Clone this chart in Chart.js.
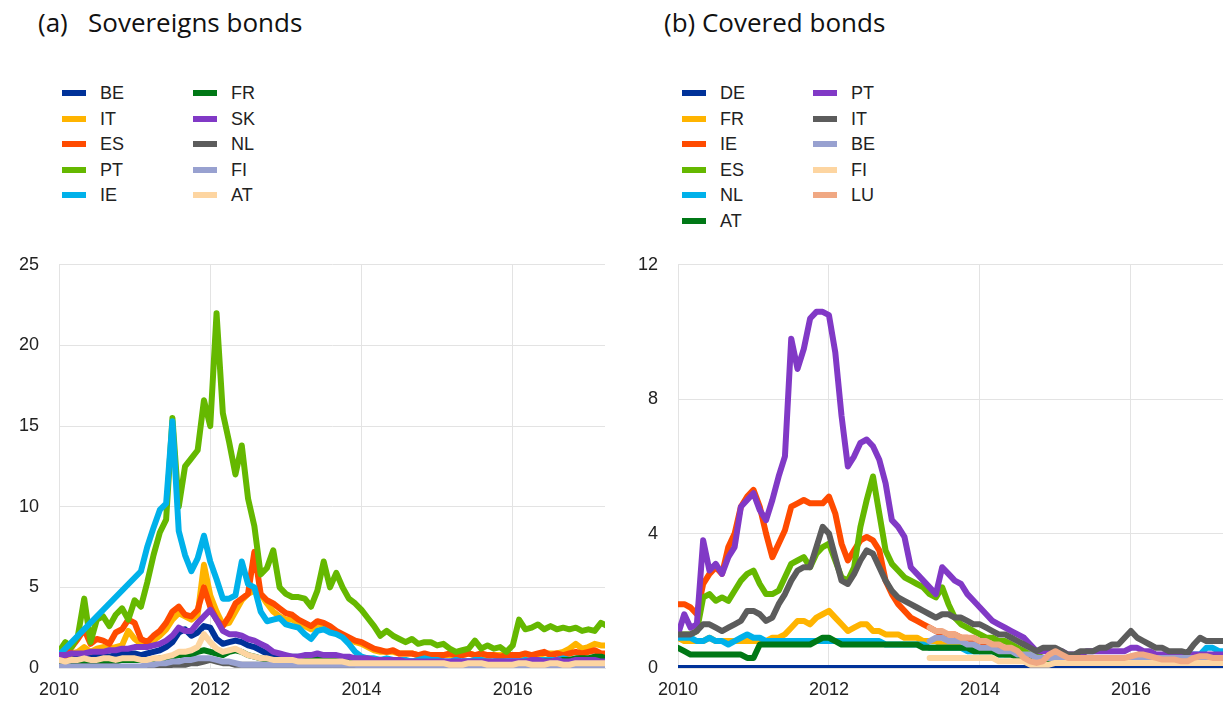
<!DOCTYPE html>
<html>
<head>
<meta charset="utf-8">
<script src="https://cdn.jsdelivr.net/npm/chart.js@4.4.1/dist/chart.umd.min.js"></script>
<style>
  body { margin: 0; width: 1223px; height: 704px; background: #fff; position: relative; overflow: hidden; font-family: 'Liberation Sans', Arial, sans-serif; }
  .title { position: absolute; top: 4px; font-family: 'Open Sans', sans-serif; font-size: 26px; color: #111; white-space: nowrap; }
  .legend .item { position: absolute; height: 24px; line-height: 24px; font-size: 18px; color: #222; white-space: nowrap; }
  .legend .sw { position: absolute; top: 9px; left: 0; width: 24px; height: 6px; }
  .legend .lbl { position: absolute; left: 38px; top: 0; }
  canvas { position: absolute; }
</style>
</head>
<body>
<div class="title" style="left:38px">(a)</div>
<div class="title" style="left:88px">Sovereigns bonds</div>
<div class="title" style="left:664px">(b) Covered bonds</div>
<div class="legend" id="legend-sov"></div>
<div class="legend" id="legend-cov"></div>
<canvas id="chart-sov" width="612" height="470" style="left:0;top:234px"></canvas>
<canvas id="chart-cov" width="603" height="470" style="left:620px;top:234px"></canvas>
<script>
// tick labels / axes
const xTicksYears = [2010, 2012, 2014, 2016];
const sovYTicks = [0, 5, 10, 15, 20, 25];
const covYTicks = [0, 4, 8, 12];

// monthly observations, Jan 2010 .. Apr 2017 (88 points)
const firstYear = 2010;
const nPoints = 88;

// ---- (a) Sovereign bonds ----
const sovNames = ['BE', 'IT', 'ES', 'PT', 'IE', 'FR', 'SK', 'NL', 'FI', 'AT'];
const sovColors = ['#003299', '#ffb400', '#ff4b00', '#65b800', '#00b1ea', '#007816', '#8139c6', '#5c5c5c', '#98a1d0', '#fdd5a1'];

const sovBE = [
  0.7, 0.6, 0.6, 0.7, 0.8, 0.7, 0.7, 0.8, 0.7, 0.8, 0.9, 0.9,
  0.9, 0.8, 0.9, 1.0, 1.1, 1.3, 1.6, 2.2, 2.4, 2.0, 2.2, 2.6,
  2.5, 1.8, 1.5, 1.6, 1.7, 1.6, 1.4, 1.3, 1.1, 0.9, 0.8, 0.8,
  0.7, 0.7, 0.7, 0.7, 0.7, 0.7, 0.6, 0.7, 0.6, 0.6, 0.6, 0.6,
  0.6, 0.5, 0.5, 0.5, 0.5, 0.4, 0.4, 0.4, 0.4, 0.4, 0.4, 0.4,
  0.4, 0.4, 0.3, 0.3, 0.4, 0.4, 0.4, 0.4, 0.3, 0.4, 0.4, 0.4,
  0.4, 0.4, 0.4, 0.4, 0.3, 0.4, 0.4, 0.4, 0.4, 0.4, 0.5, 0.5,
  0.5, 0.5, 0.5, 0.5
];
const sovIT = [
  0.8, 0.7, 0.9, 1.0, 1.3, 1.0, 1.2, 1.3, 1.2, 1.3, 1.4, 2.3,
  1.8, 1.5, 1.5, 1.7, 2.0, 2.4, 3.0, 3.4, 3.2, 3.0, 3.3, 6.4,
  4.5, 3.5, 2.7, 2.8, 3.5, 4.2, 4.6, 4.8, 4.6, 4.0, 3.5, 3.2,
  3.0, 3.0, 2.8, 2.6, 2.4, 2.7, 2.6, 2.4, 2.2, 2.0, 1.8, 1.6,
  1.5, 1.3, 1.1, 1.0, 1.0, 1.0, 0.9, 0.9, 0.9, 0.8, 0.8, 0.8,
  0.8, 0.8, 0.8, 0.8, 0.8, 0.9, 0.8, 0.8, 0.7, 0.8, 0.8, 0.8,
  0.8, 0.8, 0.8, 0.8, 0.8, 0.9, 0.9, 0.9, 1.0, 1.2, 1.5, 1.2,
  1.3, 1.5, 1.4, 1.4
];
const sovES = [
  0.9, 0.7, 1.3, 1.8, 2.4, 1.5, 1.8, 1.7, 1.5, 2.2, 2.4, 3.0,
  2.8, 1.8, 1.6, 2.0, 2.3, 2.8, 3.5, 3.8, 3.3, 3.2, 3.6, 5.0,
  3.8, 3.0, 2.6, 3.2, 4.0, 4.3, 4.6, 7.2, 4.6, 4.2, 4.0, 3.7,
  3.4, 3.3, 3.0, 2.8, 2.6, 2.9, 2.8, 2.6, 2.3, 2.1, 1.9, 1.7,
  1.6, 1.4, 1.2, 1.1, 1.0, 1.1, 0.9, 0.9, 0.9, 0.8, 0.9, 0.8,
  0.8, 0.8, 0.9, 0.8, 0.8, 0.9, 0.8, 0.9, 0.8, 0.8, 0.7, 0.8,
  0.8, 0.8, 0.9, 0.8, 0.9, 1.0, 0.8, 0.9, 0.8, 0.9, 1.0, 0.9,
  1.0, 1.1, 0.9, 0.9
];
const sovPT = [
  1.0, 1.6, 1.3, 2.0, 4.3, 1.6, 3.0, 3.2, 2.6, 3.3, 3.7, 3.0,
  4.2, 3.8, 5.3, 7.0, 8.4, 9.2, 15.5, 10.0, 12.5, 13.0, 13.5, 16.6,
  15.0, 22.0, 15.8, 14.0, 12.0, 13.8, 10.5, 8.8, 5.8, 6.2, 7.3, 5.0,
  4.6, 4.4, 4.4, 4.3, 3.8, 4.8, 6.6, 5.0, 5.9, 5.0, 4.3, 4.0,
  3.6, 3.1, 2.6, 2.0, 2.3, 2.0, 1.8, 1.6, 1.8, 1.5, 1.6, 1.6,
  1.4, 1.5, 1.2, 1.0, 1.1, 1.2, 1.7, 1.2, 1.4, 1.2, 1.3, 1.0,
  1.4, 3.0, 2.4, 2.5, 2.7, 2.4, 2.6, 2.4, 2.5, 2.4, 2.5, 2.3,
  2.4, 2.3, 2.8, 2.6
];
// IE: no observations between Jan 2010 and Feb 2011 (drawn as a straight segment)
const sovIE = [
  0.8, null, null, null, null, null, null, null, null, null, null, null,
  null, 6.0, 7.5, 8.7, 9.8, 10.2, 15.3, 8.5, 7.0, 6.0, 6.8, 8.2,
  6.6, 5.5, 4.3, 4.3, 4.5, 6.6, 5.2, 5.0, 3.5, 2.9, 3.0, 3.1,
  2.7, 2.6, 2.5, 2.1, 1.8, 2.3, 2.4, 2.2, 2.1, 1.9, 1.5, 1.0,
  0.7, 0.6, 0.6, 0.5, 0.6, 0.5, 0.5, 0.5, 0.4, 0.5, 0.6, 0.5,
  0.5, 0.4, 0.4, 0.5, 0.4, 0.4, 0.5, 0.5, 0.4, 0.4, 0.4, 0.4,
  0.4, 0.4, 0.5, 0.4, 0.5, 0.5, 0.5, 0.5, 0.6, 0.5, 0.5, 0.5,
  0.5, 0.6, 0.6, 0.6
];
const sovFR = [
  0.3, 0.3, 0.3, 0.3, 0.4, 0.4, 0.4, 0.4, 0.4, 0.4, 0.5, 0.5,
  0.5, 0.5, 0.5, 0.5, 0.6, 0.6, 0.7, 0.8, 0.8, 0.8, 1.0, 1.1,
  1.0, 0.9, 0.8, 1.0, 1.1, 1.0, 0.8, 0.7, 0.6, 0.5, 0.5, 0.5,
  0.5, 0.5, 0.5, 0.5, 0.5, 0.5, 0.5, 0.5, 0.5, 0.4, 0.4, 0.4,
  0.4, 0.4, 0.3, 0.3, 0.3, 0.3, 0.3, 0.3, 0.3, 0.3, 0.3, 0.3,
  0.3, 0.3, 0.3, 0.3, 0.3, 0.3, 0.3, 0.3, 0.3, 0.3, 0.3, 0.3,
  0.3, 0.3, 0.3, 0.3, 0.3, 0.4, 0.4, 0.4, 0.5, 0.5, 0.6, 0.6,
  0.6, 0.7, 0.7, 0.6
];
const sovSK = [
  0.8, 0.8, 0.9, 0.9, 0.9, 1.0, 1.0, 1.0, 1.1, 1.1, 1.2, 1.2,
  1.3, 1.3, 1.3, 1.4, 1.5, 1.7, 2.0, 2.5, 2.3, 2.3, 2.8, 3.2,
  3.6, 3.0, 2.3, 2.1, 2.1, 2.0, 1.8, 1.7, 1.5, 1.3, 1.0, 0.9,
  0.8, 0.7, 0.7, 0.8, 0.8, 0.9, 0.8, 0.8, 0.8, 0.7, 0.7, 0.6,
  0.6, 0.6, 0.5, 0.5, 0.5, 0.5, 0.5, 0.4, 0.4, 0.4, 0.4, 0.4,
  0.4, 0.4, 0.4, 0.4, 0.4, 0.4, 0.4, 0.4, 0.4, 0.4, 0.4, 0.4,
  0.4, 0.4, 0.4, 0.5, 0.5, 0.4, 0.4, 0.5, 0.4, 0.4, 0.5, 0.5,
  0.5, 0.5, 0.4, 0.4
];
const sovNL = [
  0.1, 0.1, 0.1, 0.1, 0.1, 0.1, 0.1, 0.1, 0.1, 0.1, 0.0, 0.0,
  0.0, 0.0, 0.1, 0.1, 0.1, 0.1, 0.2, 0.2, 0.2, 0.3, 0.3, 0.4,
  0.5, 0.4, 0.3, 0.3, 0.2, 0.2, 0.2, 0.2, 0.2, 0.2, 0.2, 0.2,
  0.2, 0.2, 0.2, 0.2, 0.2, 0.2, 0.2, 0.2, 0.2, 0.2, 0.2, 0.2,
  0.2, 0.2, 0.2, 0.2, 0.2, 0.1, 0.1, 0.1, 0.1, 0.1, 0.1, 0.1,
  0.1, 0.1, 0.1, 0.1, 0.1, 0.1, 0.1, 0.1, 0.1, 0.1, 0.1, 0.1,
  0.1, 0.1, 0.1, 0.1, 0.1, 0.1, 0.1, 0.1, 0.1, 0.1, 0.1, 0.1,
  0.1, 0.1, 0.1, 0.1
];
const sovFI = [
  0.1, 0.1, 0.1, 0.1, 0.1, 0.1, 0.1, 0.1, 0.1, 0.1, 0.1, 0.1,
  0.1, 0.1, 0.2, 0.2, 0.3, 0.3, 0.4, 0.4, 0.5, 0.5, 0.6, 0.6,
  0.6, 0.5, 0.4, 0.4, 0.3, 0.2, 0.2, 0.2, 0.2, 0.2, 0.2, 0.2,
  0.2, 0.2, 0.2, 0.2, 0.2, 0.2, 0.2, 0.2, 0.2, 0.2, 0.2, 0.2,
  0.1, 0.1, 0.1, 0.1, 0.1, 0.1, 0.1, 0.1, 0.1, 0.1, 0.1, 0.1,
  0.1, 0.1, 0.1, 0.1, 0.1, 0.1, 0.1, 0.1, 0.1, 0.1, 0.1, 0.1,
  0.1, 0.1, 0.1, 0.1, 0.1, 0.1, 0.1, 0.1, 0.1, 0.1, 0.1, 0.1,
  0.1, 0.1, 0.1, 0.1
];
const sovAT = [
  0.5, 0.4, 0.5, 0.5, 0.6, 0.5, 0.5, 0.6, 0.6, 0.5, 0.6, 0.6,
  0.6, 0.5, 0.5, 0.6, 0.6, 0.7, 0.8, 1.0, 1.0, 1.1, 1.3, 2.1,
  1.6, 1.2, 1.0, 1.1, 1.2, 1.0, 0.8, 0.7, 0.6, 0.6, 0.5, 0.5,
  0.5, 0.5, 0.4, 0.4, 0.4, 0.4, 0.4, 0.4, 0.4, 0.4, 0.3, 0.3,
  0.3, 0.3, 0.3, 0.3, 0.3, 0.3, 0.3, 0.3, 0.3, 0.3, 0.3, 0.3,
  0.3, 0.3, 0.2, 0.2, 0.2, 0.3, 0.3, 0.3, 0.2, 0.2, 0.2, 0.2,
  0.2, 0.3, 0.3, 0.2, 0.2, 0.2, 0.3, 0.3, 0.2, 0.2, 0.3, 0.3,
  0.3, 0.3, 0.3, 0.3
];

// ---- (b) Covered bonds ----
const covNames = ['DE', 'FR', 'IE', 'ES', 'NL', 'AT', 'PT', 'IT', 'BE', 'FI', 'LU'];
const covColors = ['#003299', '#ffb400', '#ff4b00', '#65b800', '#00b1ea', '#007816', '#8139c6', '#5c5c5c', '#98a1d0', '#fdd5a1', '#f0a883'];

const covDE = [
  0, 0, 0, 0, 0, 0, 0, 0, 0, 0, 0, 0,
  0, 0, 0, 0, 0, 0, 0, 0, 0, 0, 0, 0,
  0, 0, 0, 0, 0, 0, 0, 0, 0, 0, 0, 0,
  0, 0, 0, 0, 0, 0, 0, 0, 0, 0, 0, 0,
  0, 0, 0, 0, 0, 0, 0, 0, 0, 0, 0, 0,
  0, 0, 0, 0, 0, 0, 0, 0, 0, 0, 0, 0,
  0, 0, 0, 0, 0, 0, 0, 0, 0, 0, 0, 0,
  0, 0, 0, 0
];
const covFR = [
  0.9, 0.8, 0.8, 0.8, 0.8, 0.9, 0.8, 0.8, 0.8, 0.8, 0.8, 0.8,
  0.8, 0.8, 0.8, 0.9, 0.9, 1.0, 1.2, 1.4, 1.4, 1.3, 1.5, 1.6,
  1.7, 1.5, 1.3, 1.1, 1.2, 1.3, 1.3, 1.1, 1.1, 1.0, 1.0, 1.0,
  0.9, 0.9, 0.9, 0.8, 0.8, 0.8, 0.7, 0.7, 0.7, 0.6, 0.6, 0.6,
  0.5, 0.5, 0.5, 0.5, 0.4, 0.4, 0.4, 0.3, 0.3, 0.3, 0.3, 0.3,
  0.3, 0.3, 0.3, 0.3, 0.3, 0.3, 0.3, 0.3, 0.3, 0.3, 0.3, 0.3,
  0.3, 0.3, 0.3, 0.3, 0.3, 0.3, 0.3, 0.3, 0.3, 0.3, 0.3, 0.3,
  0.3, 0.3, 0.3, 0.3
];
const covIE = [
  1.9, 1.9, 1.8, 1.6, 2.5, 2.8, 3.0, 2.8, 3.6, 4.0, 4.8, 5.1,
  5.3, 4.8, 4.0, 3.3, 3.7, 4.1, 4.8, 4.9, 5.0, 4.9, 4.9, 4.9,
  5.1, 4.6, 3.7, 3.2, 3.5, 3.8, 3.9, 3.8, 3.5, 2.6, 2.2, 1.9,
  1.7, 1.5, 1.4, 1.3, 1.2, 1.1, 1.0, 1.0, 1.0, 0.9, 0.9, 0.8,
  0.8, 0.7, 0.7, 0.6, 0.6, 0.5, 0.5, 0.4, 0.4, 0.3, 0.3, 0.3,
  0.3, 0.3, 0.3, 0.3, 0.3, 0.3, 0.3, 0.3, 0.3, 0.3, 0.3, 0.3,
  0.3, 0.3, 0.3, 0.3, 0.3, 0.3, 0.3, 0.3, 0.3, 0.3, 0.3, 0.3,
  0.3, 0.3, 0.3, 0.3
];
const covES = [
  1.0, 1.0, 1.0, 1.1, 2.1, 2.2, 2.0, 2.1, 2.0, 2.3, 2.6, 2.8,
  2.9, 2.5, 2.2, 2.2, 2.3, 2.7, 3.1, 3.2, 3.3, 3.0, 3.4, 3.6,
  3.7, 3.2, 2.7, 2.6, 3.0, 4.2, 5.0, 5.7, 4.6, 3.5, 3.1, 2.9,
  2.7, 2.6, 2.5, 2.4, 2.2, 2.1, 2.4, 1.9, 1.5, 1.3, 1.2, 1.1,
  1.0, 0.9, 0.9, 0.8, 0.8, 0.7, 0.6, 0.5, 0.4, 0.4, 0.3, 0.3,
  0.3, 0.3, 0.3, 0.3, 0.3, 0.3, 0.3, 0.3, 0.3, 0.3, 0.3, 0.3,
  0.3, 0.3, 0.3, 0.3, 0.3, 0.3, 0.3, 0.3, 0.3, 0.3, 0.3, 0.3,
  0.3, 0.3, 0.3, 0.3
];
const covNL = [
  0.9, 0.9, 0.9, 0.8, 0.8, 0.9, 0.8, 0.8, 0.7, 0.8, 0.9, 1.0,
  0.9, 0.9, 0.8, 0.8, 0.8, 0.8, 0.8, 0.8, 0.8, 0.8, 0.8, 0.8,
  0.8, 0.8, 0.8, 0.8, 0.8, 0.8, 0.8, 0.8, 0.8, 0.7, 0.7, 0.7,
  0.7, 0.7, 0.7, 0.7, 0.6, 0.6, 0.6, 0.6, 0.6, 0.6, 0.5, 0.5,
  0.5, 0.5, 0.5, 0.4, 0.4, 0.4, 0.4, 0.3, 0.3, 0.3, 0.3, 0.3,
  0.3, 0.3, 0.3, 0.3, 0.3, 0.3, 0.3, 0.3, 0.3, 0.3, 0.3, 0.3,
  0.3, 0.3, 0.3, 0.3, 0.3, 0.3, 0.3, 0.3, 0.3, 0.4, 0.4, 0.4,
  0.6, 0.6, 0.5, 0.5
];
const covAT = [
  0.6, 0.5, 0.4, 0.4, 0.4, 0.4, 0.4, 0.4, 0.4, 0.4, 0.4, 0.3,
  0.3, 0.7, 0.7, 0.7, 0.7, 0.7, 0.7, 0.7, 0.7, 0.7, 0.8, 0.9,
  0.9, 0.8, 0.7, 0.7, 0.7, 0.7, 0.7, 0.7, 0.7, 0.7, 0.7, 0.7,
  0.7, 0.7, 0.7, 0.6, 0.6, 0.6, 0.6, 0.6, 0.6, 0.6, 0.6, 0.5,
  0.5, 0.5, 0.5, 0.4, 0.4, 0.4, 0.3, 0.3, 0.3, 0.2, 0.2, 0.2,
  0.2, 0.2, 0.2, 0.2, 0.2, 0.2, 0.2, 0.2, 0.2, 0.2, 0.2, 0.2,
  0.2, 0.2, 0.2, 0.2, 0.2, 0.2, 0.2, 0.2, 0.2, 0.2, 0.2, 0.2,
  0.2, 0.2, 0.2, 0.2
];
const covPT = [
  1.0, 1.6, 1.2, 1.3, 3.8, 2.9, 3.1, 2.8, 3.3, 3.6, 4.8, 5.0,
  5.2, 4.7, 4.4, 5.0, 5.7, 6.3, 9.8, 8.9, 9.5, 10.4, 10.6, 10.6,
  10.5, 9.4, 7.5, 6.0, 6.3, 6.7, 6.8, 6.6, 6.2, 5.5, 4.4, 4.2,
  3.9, 3.0, 2.8, 2.6, 2.4, 2.2, 3.0, 2.8, 2.6, 2.5, 2.2, 2.0,
  1.8, 1.6, 1.4, 1.3, 1.2, 1.1, 1.0, 0.9, 0.7, 0.5, 0.5, 0.5,
  0.5, 0.5, 0.4, 0.4, 0.4, 0.5, 0.5, 0.5, 0.5, 0.5, 0.5, 0.5,
  0.6, 0.6, 0.5, 0.5, 0.4, 0.4, 0.4, 0.4, 0.4, 0.4, 0.4, 0.4,
  0.4, 0.4, 0.4, 0.4
];
const covIT = [
  1.0, 1.0, 1.0, 1.1, 1.3, 1.3, 1.2, 1.1, 1.2, 1.3, 1.4, 1.7,
  1.7, 1.6, 1.4, 1.5, 1.9, 2.2, 2.6, 2.9, 3.0, 3.0, 3.6, 4.2,
  4.0, 3.3, 2.6, 2.5, 2.8, 3.2, 3.5, 3.4, 3.0, 2.6, 2.3, 2.1,
  2.0, 1.9, 1.8, 1.7, 1.6, 1.5, 1.6, 1.6, 1.5, 1.5, 1.4, 1.3,
  1.3, 1.2, 1.1, 1.0, 1.0, 0.9, 0.8, 0.7, 0.6, 0.5, 0.6, 0.6,
  0.6, 0.5, 0.4, 0.4, 0.5, 0.5, 0.5, 0.6, 0.6, 0.7, 0.7, 0.9,
  1.1, 0.9, 0.8, 0.7, 0.6, 0.6, 0.5, 0.5, 0.5, 0.45, 0.7, 0.9,
  0.8, 0.8, 0.8, 0.8
];
const covBE = [
  null, null, null, null, null, null, null, null, null, null, null, null,
  null, null, null, null, null, null, null, null, null, null, null, null,
  null, null, null, null, null, null, null, null, null, null, null, null,
  null, null, null, null, 0.8, 0.9, 0.9, 0.8, 0.8, 0.8, 0.7, 0.7,
  0.6, 0.6, 0.6, 0.5, 0.5, 0.5, 0.4, 0.4, 0.4, 0.3, 0.3, 0.3,
  0.3, 0.3, 0.3, 0.3, 0.3, 0.3, 0.3, 0.3, 0.3, 0.3, 0.3, 0.3,
  0.3, 0.3, 0.3, 0.3, 0.3, 0.3, 0.3, 0.3, 0.3, 0.3, 0.3, 0.3,
  0.3, 0.3, 0.3, 0.3
];
const covFI = [
  null, null, null, null, null, null, null, null, null, null, null, null,
  null, null, null, null, null, null, null, null, null, null, null, null,
  null, null, null, null, null, null, null, null, null, null, null, null,
  null, null, null, null, 0.3, 0.3, 0.3, 0.3, 0.3, 0.3, 0.3, 0.3,
  0.3, 0.3, 0.3, 0.2, 0.2, 0.2, 0.2, 0.2, 0.1, 0.1, 0.1, 0.1,
  0.15, 0.15, 0.15, 0.15, 0.15, 0.15, 0.15, 0.15, 0.15, 0.15, 0.15, 0.15,
  0.15, 0.15, 0.15, 0.15, 0.15, 0.15, 0.15, 0.15, 0.15, 0.15, 0.15, 0.15,
  0.15, 0.15, 0.15, 0.15
];
const covLU = [
  null, null, null, null, null, null, null, null, null, null, null, null,
  null, null, null, null, null, null, null, null, null, null, null, null,
  null, null, null, null, null, null, null, null, null, null, null, null,
  null, null, null, null, 1.2, 1.1, 1.1, 1.0, 1.0, 0.9, 0.9, 0.9,
  0.8, 0.8, 0.7, 0.7, 0.6, 0.6, 0.5, 0.3, 0.2, 0.15, 0.2, 0.4,
  0.5, 0.4, 0.3, 0.3, 0.3, 0.3, 0.3, 0.3, 0.3, 0.3, 0.3, 0.3,
  0.35, 0.4, 0.4, 0.35, 0.3, 0.25, 0.25, 0.25, 0.2, 0.2, 0.3, 0.35,
  0.35, 0.3, 0.3, 0.3
];

const sovSeries = [sovBE, sovIT, sovES, sovPT, sovIE, sovFR, sovSK, sovNL, sovFI, sovAT];
const covSeries = [covDE, covFR, covIE, covES, covNL, covAT, covPT, covIT, covBE, covFI, covLU];

// decimal-year positions of the monthly observations
const dates = [];
for (let i = 0; i < nPoints; i++) dates.push(firstYear + i / 12);

// legend (two columns, as in the original)
function buildLegend(id, names, colors, perCol, left, colGap) {
    const box = document.getElementById(id);
    names.forEach((name, i) => {
        const col = Math.floor(i / perCol);
        const row = i % perCol;
        const item = document.createElement('div');
        item.className = 'item';
        item.style.left = (left + col * colGap) + 'px';
        item.style.top = (81 + row * 25.6) + 'px';
        item.innerHTML = `<span class="sw" style="background:${colors[i]}"></span><span class="lbl">${name}</span>`;
        box.appendChild(item);
    });
}

function makeChart(canvasId, names, colors, series, yTicks, yAxisWidth, padRight) {
    const n = series.length;
    const datasets = series.map((vals, i) => ({
        label: names[i],
        data: vals.map((v, k) => ({ x: dates[k], y: v })),
        borderColor: colors[i],
        backgroundColor: colors[i],
        borderWidth: 6,
        pointRadius: 0,
        tension: 0,
        spanGaps: true,
        borderJoinStyle: 'round',
        borderCapStyle: 'round',
        order: n - i   // later series drawn on top
    }));

    const tickFont = { family: "'Liberation Sans', Arial, sans-serif", size: 18 };

    return new Chart(document.getElementById(canvasId), {
        type: 'line',
        data: { datasets: datasets },
        options: {
            responsive: false,
            animation: false,
            layout: { padding: { top: 15, right: padRight, left: 0, bottom: 0 } },
            plugins: { legend: { display: false }, tooltip: { enabled: false } },
            scales: {
                x: {
                    type: 'linear',
                    min: firstYear,
                    max: 2017.22,
                    afterBuildTicks: axis => { axis.ticks = xTicksYears.map(v => ({ value: v })); },
                    afterFit: axis => { axis.height = 36; },
                    ticks: {
                        maxRotation: 0,
                        autoSkip: false,
                        padding: 11,
                        color: '#222',
                        font: tickFont,
                        callback: v => String(v)
                    },
                    grid: { color: '#e3e3e3', lineWidth: 1, drawTicks: false },
                    border: { color: '#e3e3e3' }
                },
                y: {
                    min: 0,
                    max: yTicks[yTicks.length - 1],
                    afterBuildTicks: axis => { axis.ticks = yTicks.map(v => ({ value: v })); },
                    afterFit: axis => { axis.width = yAxisWidth; },
                    ticks: {
                        padding: 20,
                        color: '#222',
                        font: tickFont,
                        callback: v => String(v)
                    },
                    grid: { color: '#e3e3e3', lineWidth: 1, drawTicks: false },
                    border: { color: '#e3e3e3' }
                }
            }
        }
    });
}

buildLegend('legend-sov', sovNames, sovColors, 5, 62, 131);
buildLegend('legend-cov', covNames, covColors, 6, 682, 131);

makeChart('chart-sov', sovNames, sovColors, sovSeries, sovYTicks, 59, 7);
makeChart('chart-cov', covNames, covColors, covSeries, covYTicks, 58, 0);
</script>
</body>
</html>
